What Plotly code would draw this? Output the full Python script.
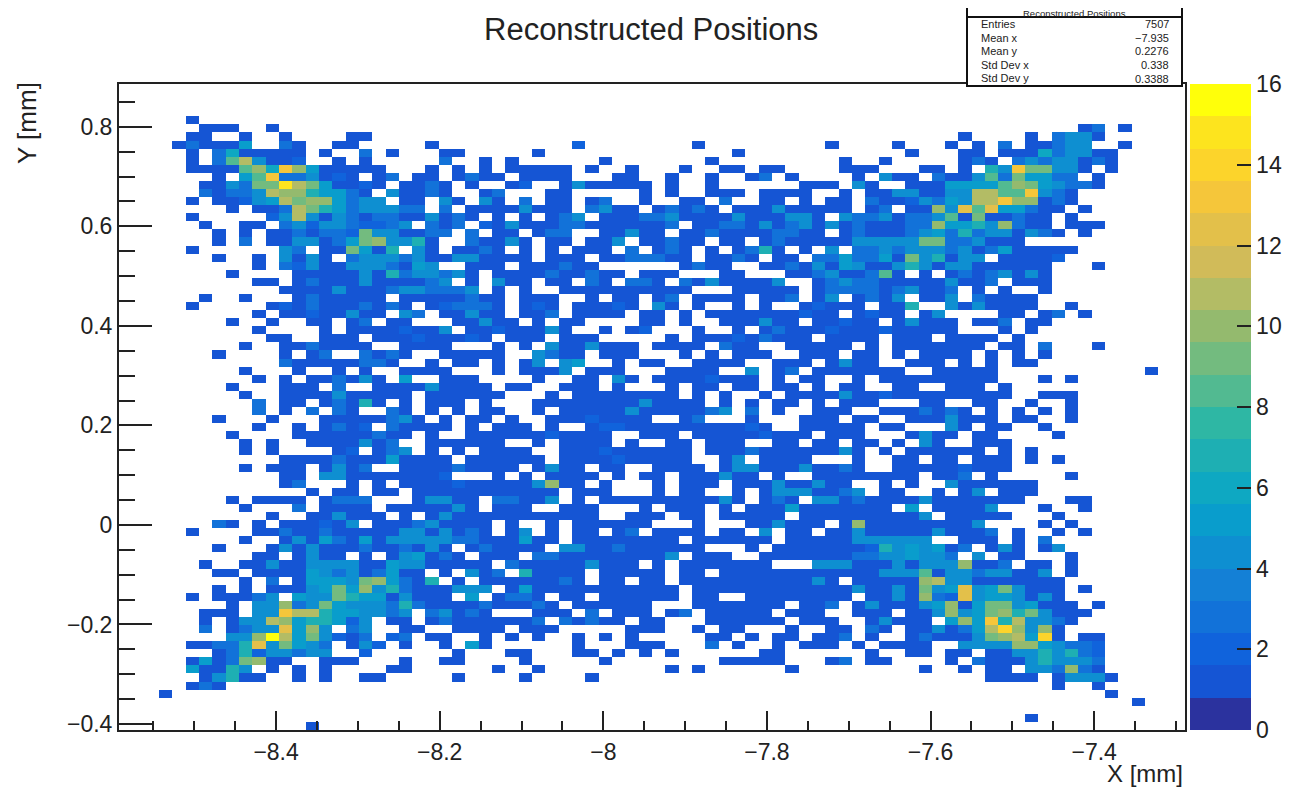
import plotly.graph_objects as go

X_RANGE = [-8.592, -7.289]
Y_RANGE = [-0.412, 0.886]
E = ".........."
# Bin contents, top row first, one string per row, 80 bins.
# '.'=0, 1-9, a=10, b=11, c=12, d=13, e=14, f=15, g=16
ROWS = [
 [E,E,E,E,E,E,E,E],
 [E,E,E,E,E,E,E,E],
 [E,E,E,E,E,E,E,E],
 [E,E,E,E,E,E,E,E],
 [".....1....",E,E,E,E,E,E,E],
 ["......111.",".1........",E,E,E,E,E,"..13.1...."],
 [".....11..1","..1....11.",E,E,E,E,"...1....1.","3441......"],
 ["....131115","..31..11..","...1......","....2.....","...1......","...1....1.","..1.1.3.11","344..1...."],
 [".....1.361","1111.1..3.","1...11....",".1........","......1...",".........1","...11.1116","34411....."],
 [".....1.38b","4112..1.1.","....3..1.1","......1...","....1.....","....1..1..","...131.343","44131....."],
 [".....11118","a6da511111","...1.1.1.1","1111.1..1.","..1..11.11","....111...","11.1.74d99","441.1....."],
 [".......1.5","8d334121.1","3.11.1311.","1111...11.",".1..1..13.","1....1.411",".311483955","33.1......"],
 ["......1143","99fb951121",".1131.1..1","2..1411111",".1..1.....",".111.41..1","1155558a95","4331......"],
 ["......3133","4baa75531.","41131..13.","..11.....1",".1..111.11","11..1.1144","1144bb88d4","31........"],
 [".....1.112","45b9aa5344",".11.41.41.","3.11.13..1","..11.3..11",".1.11.3112","4354bbdaa1","31........"],
 ["........1.","113b975344","433.3.1111","4111.3411.","13131.1114","11111.13.1","1a4c8c5531","1.1......."],
 [".....1....",".24b414313","3114131.1.","1.134.1113","3411114111","441.433413","3481911311",".1........"],
 ["......1..1","1.34244322","34.313.214","1113311111","13.1133141","3414131113","3a5574a311",".111......"],
 [".......1.1",".113133294","41133.3.11",".133..1141","1.11311113","311.131113","4537344143","1.1......."],
 [".......1.3",".11441359a","4471..3114","1.11.114.1","1311.11.13","1111144444","99334111..",E],
 [".....1....","..43.11951","7.41.1131.","1.1.111.3.","131.1.1371",".1.4.33434","4434135111","11........"],
 [".......1..","1.4141.344","4341144111","1.111.1133","311.1131.1","1.33533519","47144.1111","2........."],
 [E,"1.32411444","3154..111.","111311....","..1311..11","3141541147","4144111111","...1......"],
 ["........1.","...1111141","7344341.11","11311311.1","11...11...","113411381.","1.13134141",E],
 [E,"11.1311141","11134.1.41","1.11.31.33","1.31411114","..13433111","114113.111",E],
 [E,"..11114111","3443334.1.","1..1111111","111...1111","1.13333134","113.1.1..1",E],
 ["......1..1","...1311111",".11111311.","111..1.11.","13.1111.11","3.14.1314.","114.31111.",E],
 [".....1....",".121311131","31.123331.","121.11121.","41.1..1.1.",".12111.117","..4141111.",".1........"],
 [E,"1.11211411",".43.11411.","113.1111.1","1.1.111111","1211.1211.","14....11.1","3.1......."],
 ["........1.",".1..11.13.","11...11411",".1.11....1","1.1..11141","1.11211.14","111.113.11",E],
 [E,"1....1.111","12114.1121","1141..1.12","...1..1.13","1112111211","111...1.1.",E],
 [E,".11..111.1","11211121.1","11.111....",".1.1112131","11.1111.11","1.1111.1..",E],
 [".........1","..1131111.",".1111...1.","1.4114111.","1111.311..","11111.1.11","11111.11.3","...1......"],
 [".......1..","..1.13..31","31..11111.",".4311.111.","..1.1.111.",".111.11.1.","1111.1.1.1",E],
 [E,"..31111133","1..1.11.1.","14.45..1.1","1..1111..1","11.1411..1","11.1.1.11.",E],
 [".........1","...1..1.1.",".1111...1.","1114.111..",".1111..4.1","3.1111111.",".11111....",".......1.."],
 [E,"1.1.113141",".5..111...",".1..11.41.","11112111.1",".11..1.111","111111...1",".1........"],
 ["........1.","..111.3..1","11141111.1","1..111.1..",".1.11.11.1","1.1.11..11","..111.1...",E],
 [".........1","..11114111","11.111111.","..1.111111","11.1.1..1.","1111411211","1111111..1","11........"],
 [E,"3.11.13171",".1.111.1..",".111111114","1111.1.1.1","1.1.111...","11..11..1.",".1........"],
 [E,"3.1.3.31..","31.1.1.11.",".1.1111141","111134.3.1","..111..111","3131.1.1.1",".1........"],
 [".......1..",".1...11111","341.1.11.1","..11121111","..13...1..",".111.11..1","114111.11.",".1........"],
 [E,"1..1.1312.","31111.1.11","1.1..12211","111111121.",".11111.11.","..41.11..1",E],
 ["........1.","...1111113","11.1..1111","1121111..1","11.1111121","11.111...1","411.11....","1........."],
 [".........1",".1..111141","3..111111.",".1.1111.1.",".11.111..1","1.11.11.1.","41..111...",E],
 [".........1",".1....12.1","34.1.1.111","1..1112111","111.111311","111141.1.1","11111.1.1.",E],
 [E,"..11113111","51111.1111","11.1111211","111..14.11","11...1..11",".11.111.1.","1........."],
 [".........1",".111.1413.",".111131111",".1411.11..","1111.14411","141131..11","1112111...",E],
 [E,"..11.44111","11112...1.","1.1111.1.1","1.111411.1","..11111111",".113.1....",".1........"],
 [E,"..13...1.1",".111121111","14a11.1...","1.111.1114","11411..1.1","..4111111.",E],
 [E,"....1.11.1","1.11111111","111.111...","1.11..1.14","441134.11.",".1.14.111.",E],
 ["........1.","1111.1333.","..14411.33","114.1.1111","1111141.13","1.44131111","41111111..",".11......."],
 [".........1","...3.1111.","1111141.11","1..111...1",".111.1.111","51111111.5",".11114...1","..1......."],
 [E,".1..114111",".1.1411111","111111..11","1.11.11111",".111111111","4.11111...","1........."],
 [".......31.","1.111214.1","11341111.1","..1.111111","...1...114","111.1a1111","11114....1",".1........"],
 [".....1....","1131131111","14414131.1","4.1.11.13.","1111.11.4.","11.1141111","141113.1..","1.1......."],
 [".........1","..14153151","4444433111","511.111111","11.111111.","1111144444","4..111.1.3",E],
 [".......1..",".141411131","13141.1311","11.4411311","1111...1.1","1111112745","4513.141.1","4........."],
 [E,"11.1411.1.","145131.111",".331111111","14.111..11","1111133445","443.4.11..",".1........"],
 ["......1..1","1411444411","54411111.3","111114111.","1.1111111.","..44411141","444a113.11",".1........"],
 [".......11.","1111543413","511.1.413.","71111.1111","1.11.11111","1111111444","8144344114",".1........"],
 [".........1",".3.155549a","5317.1.111","11131.11.1","1.11111111","1141.11111","ab44111111","1........."],
 [".......1.1",".1114595a4","73111444.1","5111111111","11.1111111","1111141141","945c459411","1.1......."],
 [".....1.111","34.5449755","14111.5.13","31.11.1111","11.11..111","11111.1141","a32c455414","1........."],
 ["........1.","44a3495444","3731111311","131.111111","...1111111",".113.14111","45a1599451","11.1......"],
 ["......111.","44dbb75544","34.34131..",".111.3.111",".13.11111.","111..111.1","14a459a794","111......."],
 ["......1.14","4ba577524.","11.1311111","13.31311.1","1...111111",".111..1411","1.5a5d7b44","31........"],
 ["......3.13","44c5a4.34.",".11..1111.","111.....11","1..1.11...","1..11.31.1","14135bea4a","1........."],
 ["........44","agb594213.","23.11..1.1",".1..1.1.1.","....11.1.1","1.113.1..1","311149ab5e","1.11......"],
 [".....11337","c49543.142",".1..1.51..","....1...11","1...3.1..1",".111.1.111","1..4444aa5","4332......"],
 [".......137","244344..2.",".....1...1","1...11.1.1",".1......11","......1..1","1.11.11447","4732......"],
 [".....15139","a11..111..",".1..11....","1.....1...",".....11111","...13.11..","..1.311147","4443......"],
 [".....51174",".1.1.1....","11......1.",".1........",".1.1......","1.........","1..1.11.44","3a31......"],
 ["......1471","1..1.1..11",".....1....","1....1....",E,E,".....1111.","14441....."],
 [".....131..",E,E,E,E,E,E,"1..1......"],
 ["...1......",E,E,E,E,E,E,"....1....."],
 [E,E,E,E,E,E,E,"......1..."],
 [E,E,E,E,E,E,E,E],
 [E,E,E,E,E,E,"........1.",E],
 [E,"....1.....",E,E,E,E,E,E],
]
BAND_COLORS = ["#2b329e","#1555d4","#1063dc","#1272d9","#1480d6","#0e8fd1","#099dcc",
               "#0ea8c2","#1eafb3","#2eb7a4","#52ba91","#73bb7f","#94ba6e","#b3bc65",
               "#d1bb59","#e3c04a","#f5c63a","#fcd42b","#fde41e","#ffff0a"]
STAT_NAMES = ["Entries", "Mean x", "Mean y", "Std Dev x", "Std Dev y"]
STAT_VALUES = ["7507", "\u22127.935", "0.2276", "0.338", "0.3388"]

CODE = ".123456789abcdefg"
joined = ["".join(r) for r in ROWS]
bad = [i for i, r in enumerate(joined) if len(r) != 80]
if bad or len(joined) != 80:
    raise SystemExit(f"bad rows {bad} {[len(joined[i]) for i in bad]} n={len(joined)}")
z = [[(CODE.index(c) or None) for c in r] for r in joined[::-1]]

dx = (X_RANGE[1] - X_RANGE[0]) / 80
dy = (Y_RANGE[1] - Y_RANGE[0]) / 80
n = len(BAND_COLORS)
colorscale = []
for i, c in enumerate(BAND_COLORS):
    colorscale += [[i / n, c], [(i + 1) / n, c]]

# Plot box in page pixels; the page's body margin shifts the figure by 8 px.
OFF = 8
W, H = 1299 - OFF, 788 - OFF
L, R, T, B = 119, 1185, 84, 730
def px(x): return (x - L) / (R - L)
def py(y): return (B - y) / (B - T)

fig = go.Figure(go.Heatmap(
    z=z, x0=X_RANGE[0] + dx / 2, dx=dx, y0=Y_RANGE[0] + dy / 2, dy=dy,
    zmin=0, zmax=16, colorscale=colorscale, hoverongaps=False,
    colorbar=dict(x=px(1190), xanchor="left", xref="paper", y=0, yanchor="bottom", len=1,
                  thickness=61, thicknessmode="pixels", outlinewidth=0, xpad=0, ypad=0,
                  tick0=0, dtick=2, ticks="inside", ticklen=14, tickwidth=2, tickcolor="#222",
                  tickfont=dict(family="Liberation Sans", size=23, color="#222")),
))
axis_font = dict(family="Liberation Sans", size=23, color="#222")
fig.update_layout(
    width=W, height=H, autosize=False, paper_bgcolor="white", plot_bgcolor="white",
    margin=dict(l=L - OFF, r=W - (R - OFF), t=T - OFF, b=H - (B - OFF), pad=0, autoexpand=False),
    xaxis=dict(range=X_RANGE, tick0=0, dtick=0.2, ticks="inside", ticklen=19, tickwidth=2, tickcolor="#222",
               minor=dict(tick0=0, dtick=0.05, ticks="inside", ticklen=9, tickwidth=2, tickcolor="#222"),
               showgrid=False, zeroline=False, showline=True, mirror=True, linecolor="#222", linewidth=2,
               tickfont=axis_font),
    yaxis=dict(range=Y_RANGE, tick0=0, dtick=0.2, ticks="inside", ticklen=33, tickwidth=2, tickcolor="#222",
               minor=dict(tick0=0, dtick=0.05, ticks="inside", ticklen=16, tickwidth=2, tickcolor="#222"),
               showgrid=False, zeroline=False, showline=True, mirror=True, linecolor="#222", linewidth=2,
               tickfont=axis_font),
    shapes=[
        dict(type="rect", xref="paper", yref="paper", x0=px(967), x1=px(1182), y0=py(86), y1=py(6),
             line=dict(color="#111", width=2), fillcolor="white", layer="above"),
        dict(type="line", xref="paper", yref="paper", x0=px(967), x1=px(1182), y0=py(17), y1=py(17),
             line=dict(color="#111", width=2), layer="above"),
    ],
)
anns = [
    dict(text="Reconstructed Positions", x=px(651), y=py(30), size=31, xanchor="center"),
    dict(text="X [mm]", x=px(1185), y=py(773), size=24, xanchor="right"),
    dict(text="Y [mm]", x=px(27), y=py(123), size=26, xanchor="center", textangle=-90),
    dict(text="Reconstructed Positions", x=px(1074), y=py(13.5), size=9.5, xanchor="center"),
]
for i, (name, val) in enumerate(zip(STAT_NAMES, STAT_VALUES)):
    yy = 24 + i * 13.5
    anns.append(dict(text=name, x=px(979), y=py(yy), size=11, xanchor="left"))
    anns.append(dict(text=val, x=px(1171), y=py(yy + 0.2 * i), size=11, xanchor="right"))
for a in anns:
    size = a.pop("size")
    fig.add_annotation(xref="paper", yref="paper", showarrow=False, yanchor="middle",
                       font=dict(family="Liberation Sans", size=size, color="#222"), **a)
fig.write_html("out.html")
